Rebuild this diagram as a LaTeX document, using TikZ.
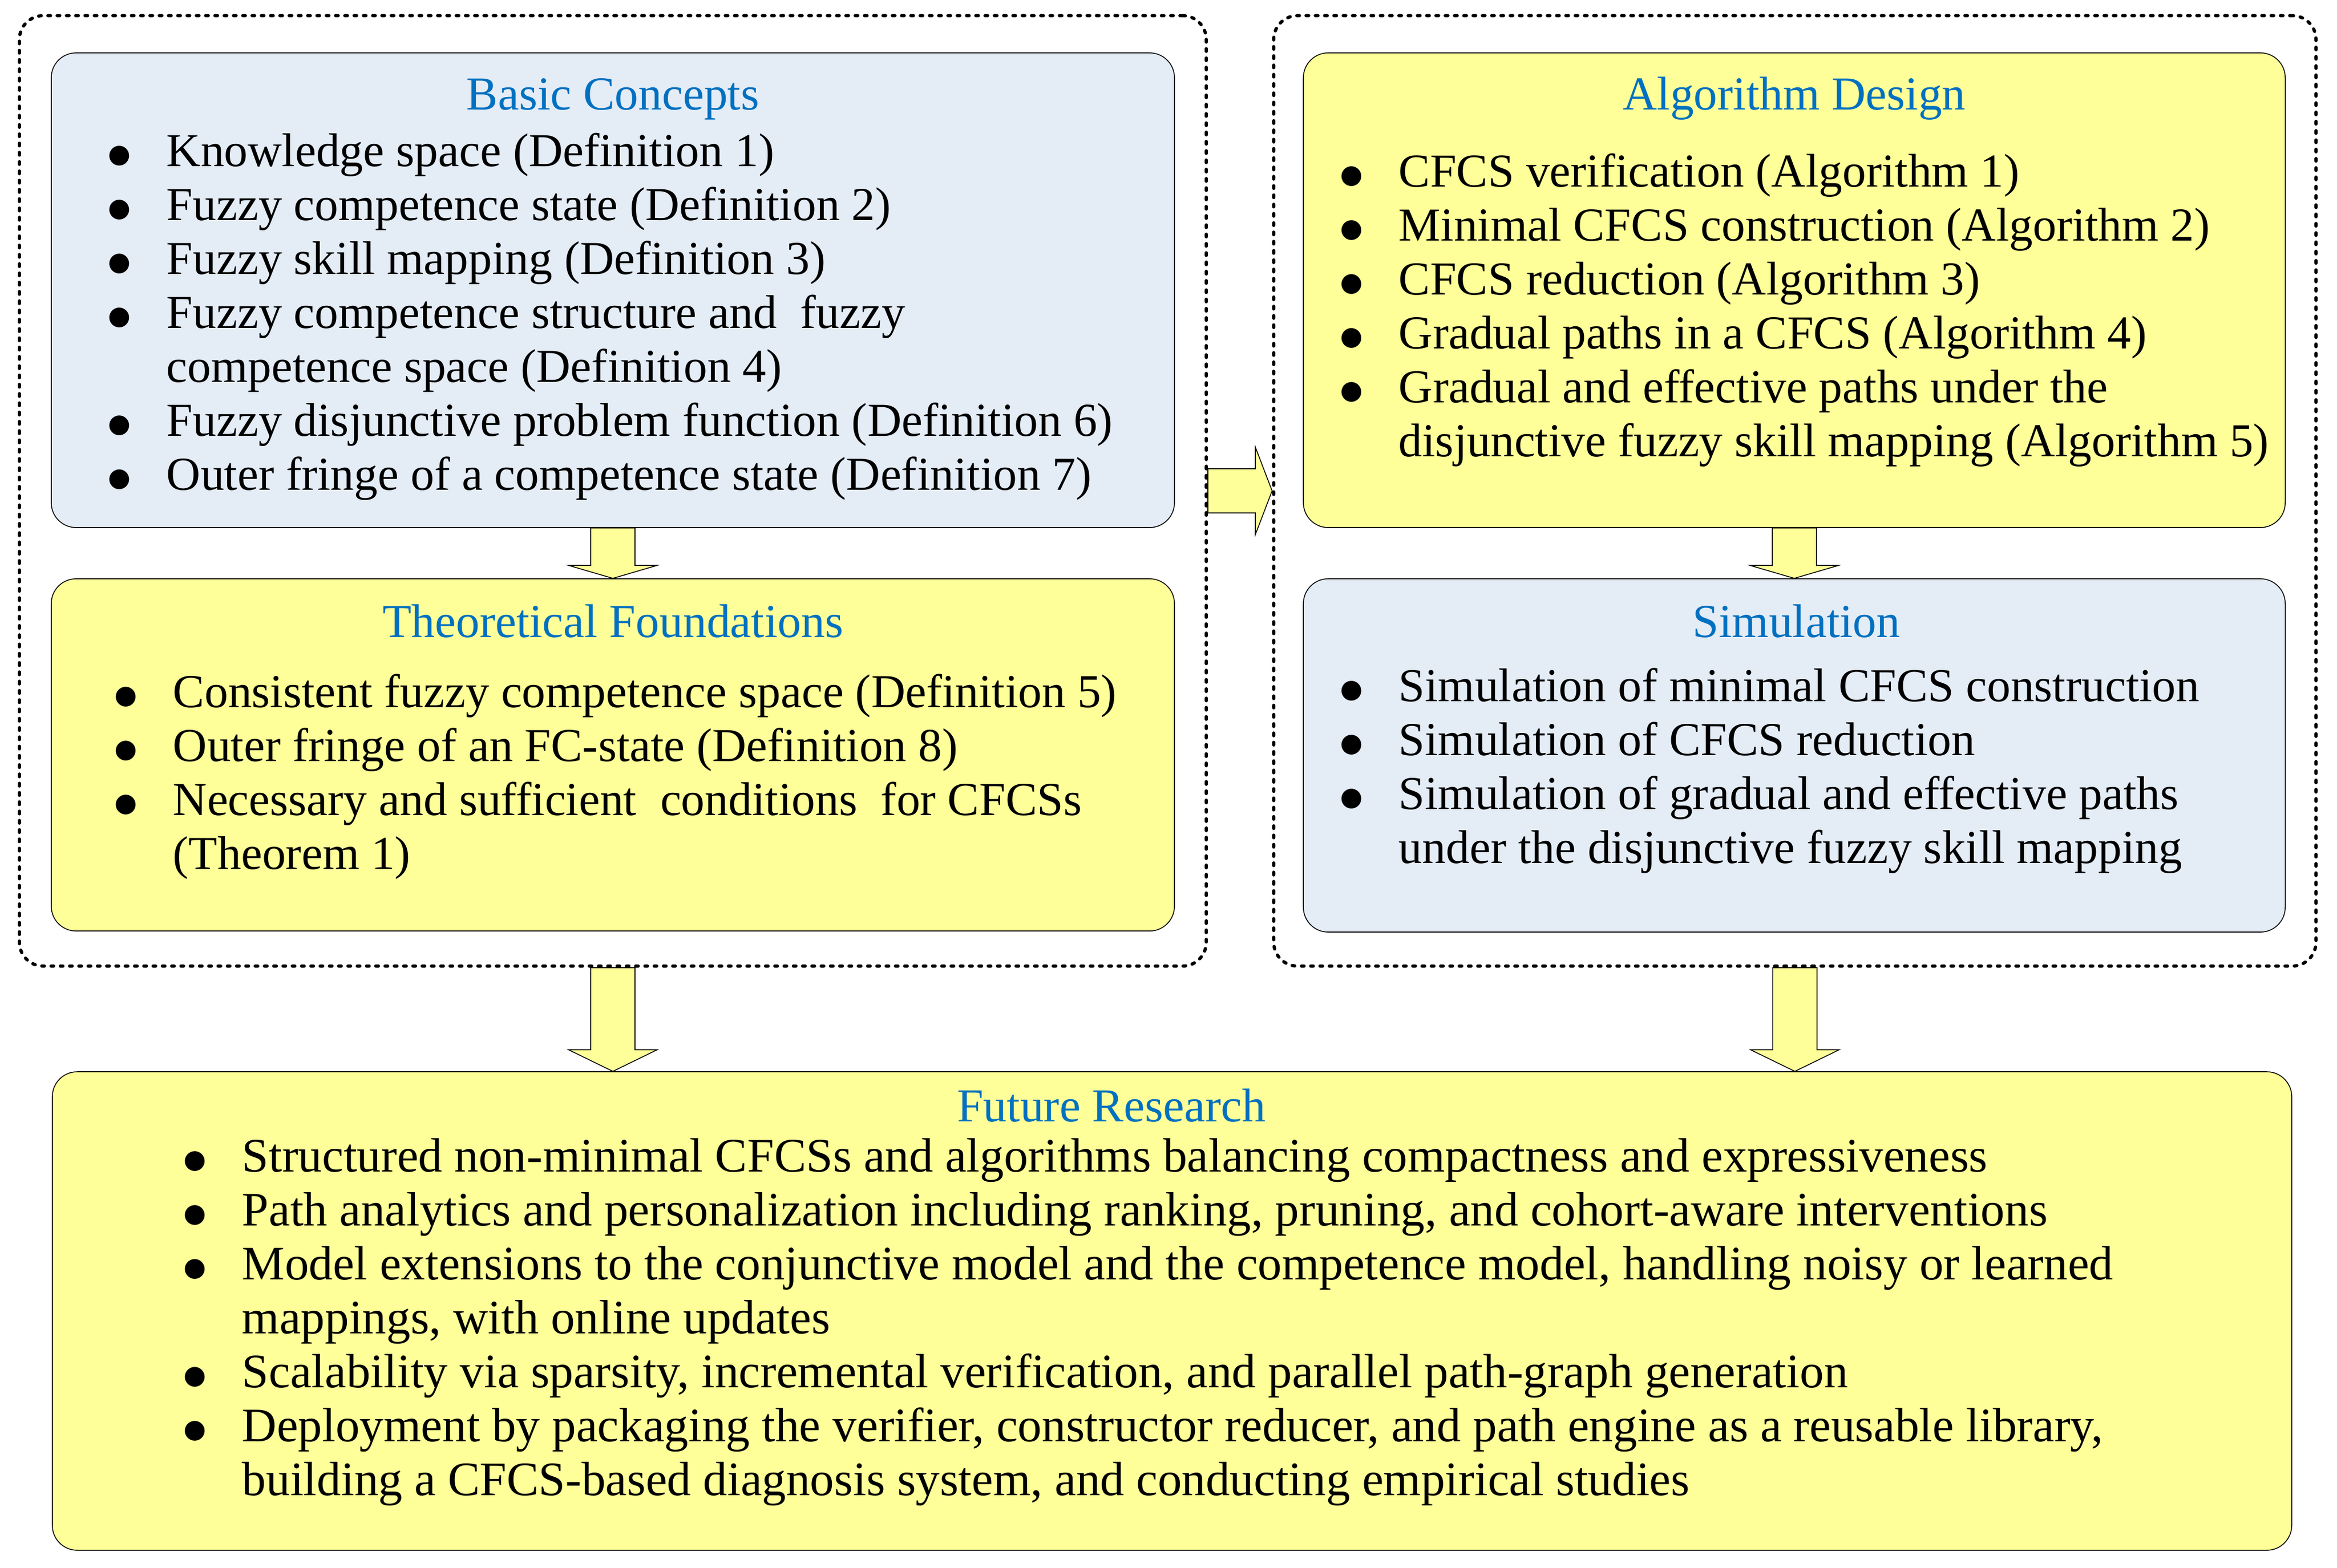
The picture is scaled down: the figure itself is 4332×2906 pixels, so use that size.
\documentclass[tikz,border=0pt]{standalone}
\usepackage{fontspec}
\usepackage{graphicx}
\setmainfont{Liberation Serif}
\newfontfamily\dejavu{DejaVu Sans}
\usetikzlibrary{fit,calc}
\definecolor{boxblue}{RGB}{228,236,246}
\definecolor{boxyellow}{RGB}{255,255,153}
\definecolor{titleblue}{RGB}{0,112,192}
\newcommand\fs{\fontsize{21.9pt}{25pt}\selectfont}
\newcommand\fsf{\fontsize{22.3pt}{25pt}\selectfont}
\newcommand\bl{\llap{\makebox[0pt][c]{\raisebox{1.6pt}{\dejavu\fontsize{12pt}{12pt}\selectfont ●}}\hspace{21.75pt}}}
\newcommand\downblock[3]{\draw[blockarr] let \p1=(#1), \p2=(#2) in
  (\x2-10.25pt,\y1) -- (\x2+10.25pt,\y1) -- (\x2+10.25pt,\y2+#3) -- (\x2+20.5pt,\y2+#3)
  -- (\x2,\y2) -- (\x2-20.5pt,\y2+#3) -- (\x2-10.25pt,\y2+#3) -- cycle;}
\newcommand\rightblock[2]{\draw[blockarr] let \p1=(#1), \p2=(#2) in
  (\x1,\y2+10.25pt) -- (\x2-7.75pt,\y2+10.25pt) -- (\x2-7.75pt,\y2+20.25pt) -- (\x2,\y2)
  -- (\x2-7.75pt,\y2-20.25pt) -- (\x2-7.75pt,\y2-10.25pt) -- (\x1,\y2-10.25pt) -- cycle;}
\begin{document}
\begin{tikzpicture}[x=0.25pt,y=-0.25pt,
  dashbox/.style={draw, line width=1.5pt, dash pattern=on 1.2pt off 3.1pt, line cap=round, rounded corners=11pt, inner sep=0pt},
  panel/.style={draw, line width=0.4pt, rounded corners=11.5pt, inner sep=0pt},
  ttl/.style={anchor=base, inner sep=0pt, text=titleblue, font=\fs, text height=15pt, text depth=4.5pt},
  ln/.style={anchor=base west, inner sep=0pt, font=\fs, text height=15pt, text depth=4.5pt},
  lnf/.style={ln, font=\fsf},
  blockarr/.style={draw, line width=0.4pt, fill=boxyellow, line join=miter}]
\useasboundingbox (0,0) rectangle (4332,2906);
% dashed groups
\node[dashbox, fit={(36,29) (2236,1791)}] (ldash) {};
\node[dashbox, fit={(2361,29) (4293,1791)}] (rdash) {};
% panels
\node[panel, fill=boxblue, fit={(95,98) (2177,978)}] (basic) {};
\node[panel, fill=boxyellow, fit={(95,1073) (2177,1726)}] (theo) {};
\node[panel, fill=boxyellow, fit={(2416,98) (4236,978)}] (algo) {};
\node[panel, fill=boxblue, fit={(2416,1073) (4236,1728)}] (sim) {};
\node[panel, fill=boxyellow, fit={(97,1987) (4248,2874)}] (future) {};
% arrows
\downblock{basic.south}{theo.north}{6pt}
\downblock{algo.south}{sim.north}{6pt}
\downblock{ldash.south}{ldash.south |- future.north}{10pt}
\downblock{rdash.south}{rdash.south |- future.north}{10pt}
\rightblock{ldash.east}{rdash.west}
% titles
\node[ttl] (tbasic) at (1136,203) {Basic Concepts};
\node[ttl] (ttheo) at (1136,1181) {Theoretical Foundations};
\node[ttl] (talgo) at (3326,203) {Algorithm Design};
\node[ttl] (tsim) at (3330,1181) {Simulation};
\node[ttl] (tfut) at (2060,2079) {Future Research};
% Basic Concepts
\foreach \t [count=\i from 0] in {
  {\bl Knowledge space (Definition 1)},
  {\bl Fuzzy competence state (Definition 2)},
  {\bl Fuzzy skill mapping (Definition 3)},
  {\bl Fuzzy competence structure and\ \ fuzzy},
  {competence space (Definition 4)},
  {\bl Fuzzy disjunctive problem function (Definition 6)},
  {\bl Outer fringe of a competence state (Definition 7)}}
  \node[ln] (bc\i) at (308,{308+100*\i}) {\t};
% Theoretical Foundations
\foreach \t [count=\i from 0] in {
  {\bl Consistent fuzzy competence space (Definition 5)},
  {\bl Outer fringe of an FC-state (Definition 8)},
  {\bl Necessary and sufficient\ \ conditions\ \ for CFCSs},
  {(Theorem 1)}}
  \node[ln] (tf\i) at (320,{1311+100*\i}) {\t};
% Algorithm Design
\foreach \t [count=\i from 0] in {
  {\bl CFCS verification (Algorithm 1)},
  {\bl Minimal CFCS construction (Algorithm 2)},
  {\bl CFCS reduction (Algorithm 3)},
  {\bl Gradual paths in a CFCS (Algorithm 4)},
  {\bl Gradual and effective paths under the},
  {disjunctive fuzzy skill mapping (Algorithm 5)}}
  \node[ln] (ad\i) at (2592,{346+100*\i}) {\t};
% Simulation
\foreach \t [count=\i from 0] in {
  {\bl Simulation of minimal CFCS construction},
  {\bl Simulation of CFCS reduction},
  {\bl Simulation of gradual and effective paths},
  {under the disjunctive fuzzy skill mapping}}
  \node[ln] (sm\i) at (2592,{1300+100*\i}) {\t};
% Future Research
\foreach \t [count=\i from 0] in {
  {\bl Structured non-minimal CFCSs and algorithms balancing compactness and expressiveness},
  {\bl Path analytics and personalization including ranking, pruning, and cohort-aware interventions},
  {\bl Model extensions to the conjunctive model and the competence model, handling noisy or learned},
  {mappings, with online updates},
  {\bl Scalability via sparsity, incremental verification, and parallel path-graph generation},
  {\bl Deployment by packaging the verifier, constructor reducer, and path engine as a reusable library,},
  {building a CFCS-based diagnosis system, and conducting empirical studies}}
  \node[lnf] (fr\i) at (448,{2172+100*\i}) {\t};
\end{tikzpicture}
\end{document}
